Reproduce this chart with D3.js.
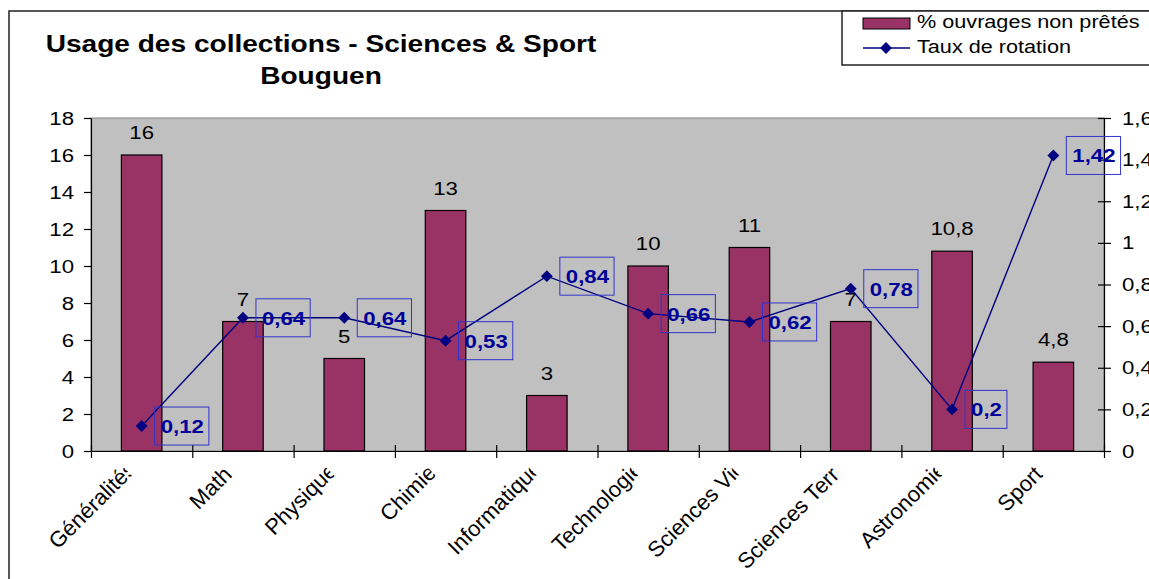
<!DOCTYPE html>
<html><head><meta charset="utf-8">
<script src="https://cdn.jsdelivr.net/npm/d3@7"></script>
<style>
html,body{margin:0;padding:0;background:#fff;overflow:hidden}
text{font-family:"Liberation Sans",Arial,sans-serif}
</style></head>
<body><svg id="c" width="1149" height="579"></svg>
<script>
const categories = ["Généralités","Math","Physique","Chimie","Informatique","Technologie","Sciences Vie","Sciences Terre","Astronomie","Sport"];
const pctNonPretes = [16,7,5,13,3,10,11,7,10.8,4.8];
const tauxRotation = [0.12,0.64,0.64,0.53,0.84,0.66,0.62,0.78,0.2,1.42];
const leftTicks = [0,2,4,6,8,10,12,14,16,18];
const rightTicks = [0,0.2,0.4,0.6,0.8,1,1.2,1.4,1.6];
const titleLines = ["Usage des collections - Sciences & Sport","Bouguen"];
const legendLabels = ["% ouvrages non prêtés","Taux de rotation"];

const S = 1.17; // horizontal stretch of the original rendering
const svg = d3.select("#c");
const X0=91, X1=1104, Y0=118, Y1=451;
const fmt = v => String(+v.toFixed(2)).replace(".", ",");
const stretch = sel => sel.each(function(){
  const t=d3.select(this); const xv=+t.attr("x")||0;
  t.attr("x", xv/S).attr("transform", `scale(${S},1)`);
});

// chart border
svg.append("rect").attr("x",9).attr("y",11).attr("width",1300).attr("height",800)
  .attr("fill","#fff").attr("stroke","#222").attr("stroke-width",1.5);

const x = d3.scaleBand().domain(categories).range([X0,X1]).paddingInner(0.6).paddingOuter(0.3);
const xi = d3.scaleLinear().domain([0,categories.length]).range([X0,X1]);
const yL = d3.scaleLinear().domain([0,18]).range([Y1,Y0]);
const yR = d3.scaleLinear().domain([0,1.6]).range([Y1,Y0]);
const cx = d => x(d)+x.bandwidth()/2;

// plot area
svg.append("rect").attr("x",X0).attr("y",Y0).attr("width",X1-X0).attr("height",Y1-Y0)
  .attr("fill","#C0C0C0").attr("stroke","#808080").attr("stroke-width",1);

// bars
svg.append("g").selectAll("rect").data(categories).join("rect")
  .attr("x",d=>x(d)).attr("width",x.bandwidth())
  .attr("y",(d,i)=>yL(pctNonPretes[i])).attr("height",(d,i)=>Y1-yL(pctNonPretes[i]))
  .attr("fill","#993366").attr("stroke","#000").attr("stroke-width",1.2);

// left axis
const gl = svg.append("g").attr("transform",`translate(${X0},0)`)
  .call(d3.axisLeft(yL).tickValues(leftTicks).tickSize(7).tickPadding(10).tickSizeOuter(0));
gl.selectAll("text").attr("font-size",19).attr("fill","#000").attr("font-family","Liberation Sans, Arial, sans-serif").call(stretch);
gl.selectAll("line,path").attr("stroke","#000").attr("stroke-width",1.2);

// right axis
const gr = svg.append("g").attr("transform",`translate(${X1},0)`)
  .call(d3.axisRight(yR).tickValues(rightTicks).tickSize(7).tickPadding(11).tickSizeOuter(0).tickFormat(fmt));
gr.selectAll("text").attr("font-size",19).attr("fill","#000").attr("font-family","Liberation Sans, Arial, sans-serif").call(stretch);
gr.selectAll("line,path").attr("stroke","#000").attr("stroke-width",1.2);
gr.selectAll(".tick").append("line").attr("x1",-6).attr("x2",0).attr("stroke","#000").attr("stroke-width",1.2);

// bottom axis
const gb = svg.append("g").attr("transform",`translate(0,${Y1})`)
  .call(d3.axisBottom(xi).tickValues(d3.range(categories.length+1)).tickSize(7).tickSizeOuter(0).tickFormat(""));
gb.selectAll("line,path").attr("stroke","#000").attr("stroke-width",1.2);
gb.selectAll(".tick").append("line").attr("y1",-6).attr("y2",0).attr("stroke","#000").attr("stroke-width",1.2);

// x labels: laid out in a box slightly shorter than the text, end truncated (as in the original)
svg.append("clipPath").attr("id","lclip").append("rect").attr("x",-1000).attr("y",-60).attr("width",1006).attr("height",120);
svg.append("g").selectAll("text").data(categories).join("text")
  .attr("transform",d=>`translate(${cx(d)-14},480) rotate(-45)`)
  .attr("font-size",22).attr("fill","#000").attr("clip-path","url(#lclip)").text(d=>d)
  .each(function(){ const L=this.getComputedTextLength(); d3.select(this).attr("x",-0.88*L); });

// bar value labels
svg.append("g").selectAll("text").data(categories).join("text")
  .attr("transform",(d,i)=>`translate(${cx(d)},${yL(pctNonPretes[i])-16}) scale(${S},1)`)
  .attr("text-anchor","middle").attr("font-size",19).attr("fill","#000")
  .text((d,i)=>fmt(pctNonPretes[i]));

// line
const line = d3.line().x((d,i)=>cx(categories[i])).y(d=>yR(d));
svg.append("path").datum(tauxRotation).attr("d",line).attr("fill","none")
  .attr("stroke","#000080").attr("stroke-width",1.4);
const sym = d3.symbol().type(d3.symbolDiamond2).size(90);
svg.append("g").selectAll("path").data(tauxRotation).join("path")
  .attr("transform",(d,i)=>`translate(${cx(categories[i])},${yR(d)})`)
  .attr("d",sym).attr("fill","#000080");

// line value labels with boxes
const lg = svg.append("g").selectAll("g").data(tauxRotation).join("g")
  .attr("transform",(d,i)=>`translate(${cx(categories[i])+13},${yR(d)})`);
lg.append("text").attr("transform",`translate(6,7) scale(${S},1)`).attr("font-size",19).attr("font-weight","bold")
  .attr("fill","#000099").text(d=>fmt(d));
lg.each(function(){
  const g=d3.select(this); const w=g.select("text").node().getComputedTextLength()*S;
  g.insert("rect","text").attr("x",0).attr("y",-19).attr("width",w+11).attr("height",38)
   .attr("fill","none").attr("stroke","#3333cc").attr("stroke-width",1);
});

// title
svg.append("g").selectAll("text").data(titleLines).join("text")
  .attr("transform",(d,i)=>`translate(321,${52+i*32}) scale(${S},1)`).attr("text-anchor","middle")
  .attr("font-size",24).attr("font-weight","bold").attr("fill","#000").text(d=>d);

// legend
svg.append("rect").attr("x",842).attr("y",11).attr("width",400).attr("height",54)
  .attr("fill","#fff").attr("stroke","#222").attr("stroke-width",1.5);
svg.append("rect").attr("x",863).attr("y",18).attr("width",47).attr("height",11)
  .attr("fill","#993366").attr("stroke","#000").attr("stroke-width",1);
svg.append("line").attr("x1",863).attr("x2",910).attr("y1",48).attr("y2",48).attr("stroke","#000080").attr("stroke-width",1.4);
svg.append("path").attr("transform","translate(886,48)").attr("d",sym).attr("fill","#000080");
svg.append("g").selectAll("text").data(legendLabels).join("text")
  .attr("transform",(d,i)=>`translate(917,${28+i*25}) scale(${S},1)`)
  .attr("font-size",18.5).attr("fill","#000").text(d=>d);
</script></body></html>
